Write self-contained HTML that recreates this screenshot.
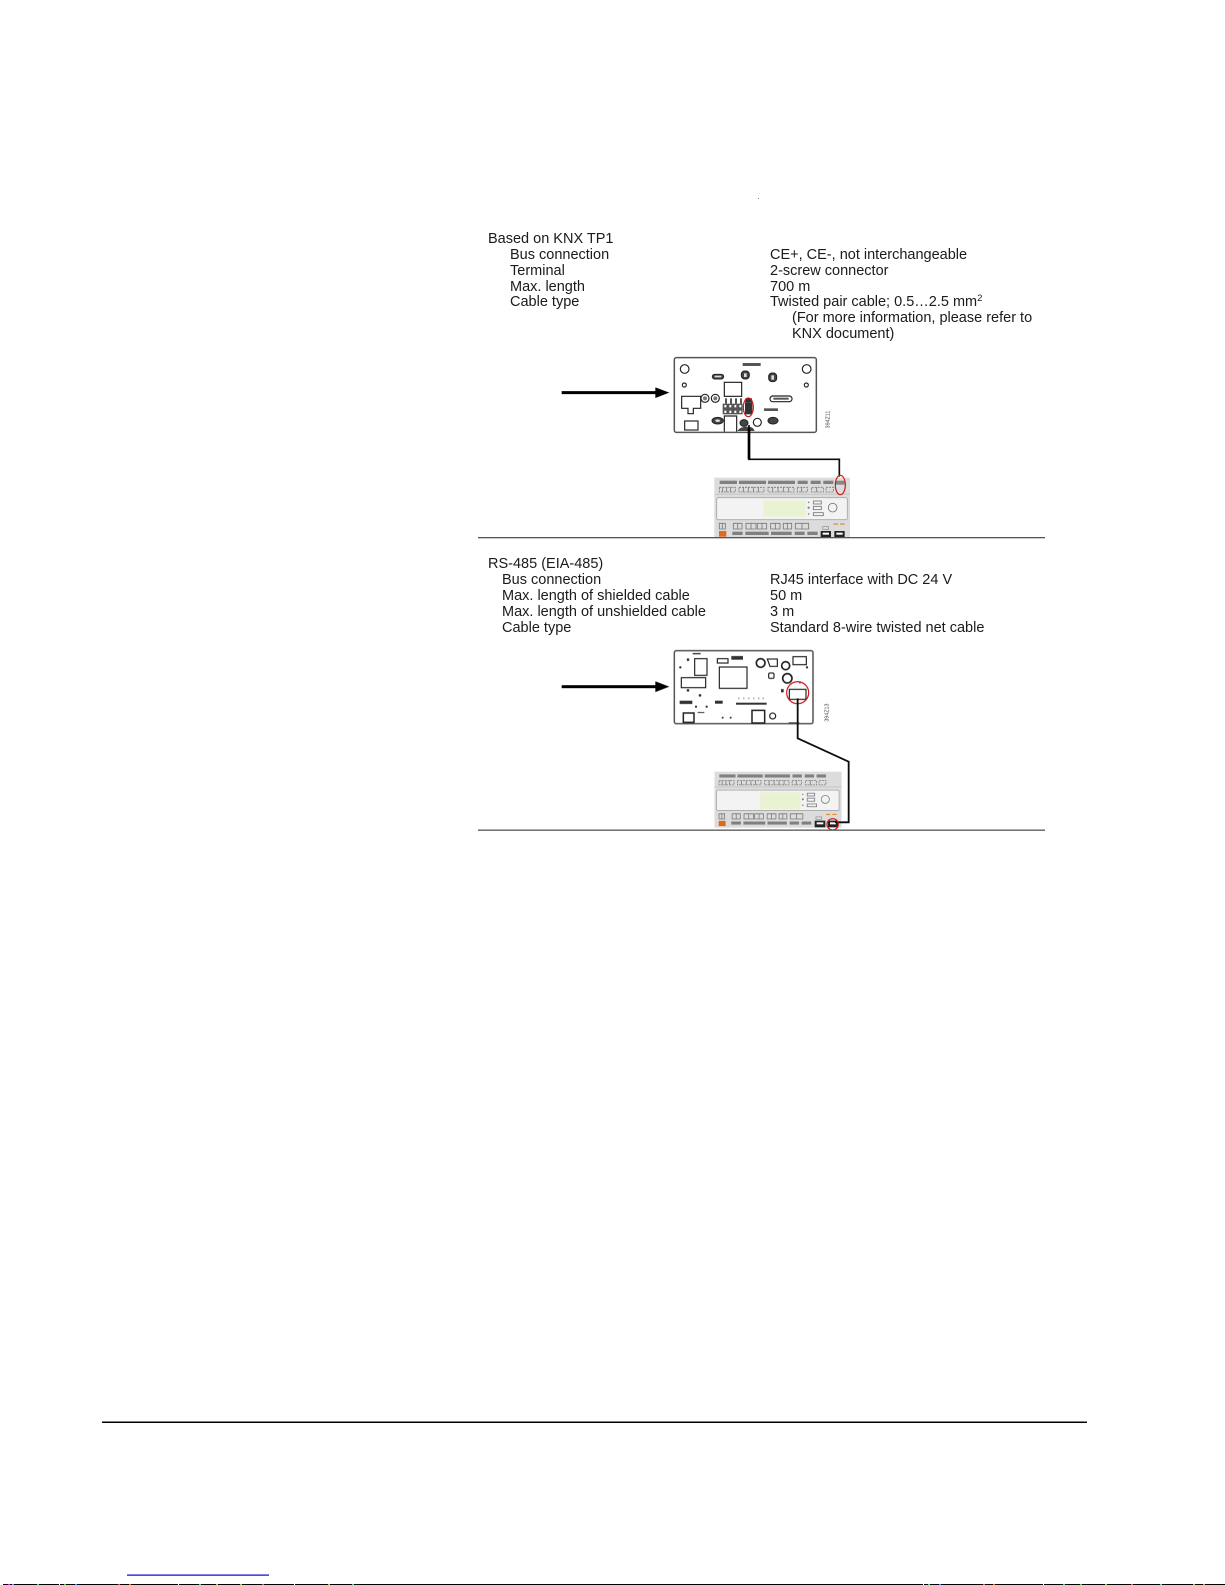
<!DOCTYPE html>
<html><head><meta charset="utf-8"><style>
html,body{margin:0;padding:0;background:#fff;width:1225px;height:1585px;overflow:hidden}
svg{display:block;position:absolute;left:0;top:0}
text{font-family:"Liberation Sans",sans-serif;font-size:14.5px;fill:#1a1a1a}
</style></head><body>
<svg width="1225" height="1585" viewBox="0 0 1225 1585" xmlns="http://www.w3.org/2000/svg">
<defs>
<filter id="b" x="-5%" y="-5%" width="110%" height="110%"><feGaussianBlur stdDeviation="0.55"/></filter>
<filter id="t" x="-5%" y="-20%" width="110%" height="140%"><feGaussianBlur stdDeviation="0.3"/></filter>
<g id="ctrlA">
<rect x="523" y="398" width="407" height="182" fill="#dcdcdc"/>
<rect x="523" y="446" width="407" height="3" fill="#c4c4c4"/>
<g fill="#808080"><rect x="539" y="407" width="52" height="10"/><rect x="597" y="407" width="81" height="10"/><rect x="684" y="407" width="81" height="10"/><rect x="773" y="407" width="30" height="10"/><rect x="812" y="407" width="30" height="10"/><rect x="850" y="407" width="30" height="10"/></g>
<g fill="none" stroke="#777" stroke-width="2.500"><path d="M538 427H586V441H538ZM597 427H672V441H597ZM684 427H762V441H684ZM772 427H802V441H772ZM815 427H850V441H815ZM858 427H880V441H858Z" stroke-dasharray="6 3"/><path d="M548 427V441M560 427V441M572 427V441M610 427V441M625 427V441M640 427V441M655 427V441M698 427V441M714 427V441M730 427V441M746 427V441M785 427V441M830 427V441"/></g>
<rect x="530" y="458" width="392" height="66" rx="5" fill="#f3f3f3" stroke="#a6a6a6" stroke-width="2.500"/>
<g fill="none" stroke="#777" stroke-width="2.500"><rect x="820" y="468" width="24" height="9"/><rect x="820" y="484" width="24" height="10"/><rect x="820" y="503" width="30" height="9"/><circle cx="878" cy="488" r="13"/></g>
<g fill="#888"><circle cx="806" cy="472" r="2.500"/><circle cx="806" cy="488" r="3.500"/><circle cx="806" cy="507" r="2.500"/></g>
<g fill="none" stroke="#777" stroke-width="2.500"><path d="M538 535H556V552H538ZM580 535H606V552H580ZM618 535H648V552H618ZM652 535H680V552H652ZM692 535H720V552H692ZM730 535H755V552H730ZM766 535H806V552H766Z"/><path d="M547 535V552M593 535V552M633 535V552M666 535V552M706 535V552M742 535V552M786 535V552"/></g>
<rect x="537" y="558" width="22" height="17" fill="#e0691e"/>
<g fill="#808080"><rect x="577" y="560" width="31" height="10"/><rect x="616" y="560" width="70" height="10"/><rect x="693" y="560" width="62" height="10"/><rect x="764" y="560" width="30" height="10"/><rect x="802" y="560" width="31" height="10"/></g>
<g fill="#e0913f"><rect x="880" y="535" width="14" height="4"/><rect x="900" y="535" width="14" height="4"/></g>
<rect x="848" y="545" width="18" height="8" fill="none" stroke="#888" stroke-width="2"/>
</g>
</defs>

<rect x="758" y="198" width="1" height="1" fill="#777"/>

<g filter="url(#t)">
<text x="488" y="243">Based on KNX TP1</text>
<text x="510" y="259">Bus connection</text>
<text x="510" y="275">Terminal</text>
<text x="510" y="291">Max. length</text>
<text x="510" y="306">Cable type</text>
<text x="770" y="259">CE+, CE-, not interchangeable</text>
<text x="770" y="275">2-screw connector</text>
<text x="770" y="291">700 m</text>
<text x="770" y="306">Twisted pair cable; 0.5…2.5 mm<tspan font-size="9.500" dy="-5">2</tspan></text>
<text x="792" y="322">(For more information, please refer to</text>
<text x="792" y="338">KNX document)</text>

<text x="488" y="568">RS-485 (EIA-485)</text>
<text x="502" y="584">Bus connection</text>
<text x="502" y="600">Max. length of shielded cable</text>
<text x="502" y="616">Max. length of unshielded cable</text>
<text x="502" y="632">Cable type</text>
<text x="770" y="584">RJ45 interface with DC 24 V</text>
<text x="770" y="600">50 m</text>
<text x="770" y="616">3 m</text>
<text x="770" y="632">Standard 8-wire twisted net cable</text>
</g>

<!-- KNX diagram -->
<g transform="translate(540,345) scale(.33333)" filter="url(#b)">
<path d="M65 143H350" stroke="#000" stroke-width="9" fill="none"/>
<path d="M346 127L388 143L346 159Z" fill="#000"/>
<rect x="403" y="38" width="426" height="224" rx="6" fill="#fff" stroke="#555" stroke-width="4.500"/>
<g fill="none" stroke="#222" stroke-width="3.500">
<circle cx="434" cy="72" r="13"/><circle cx="800" cy="72" r="13"/>
<circle cx="433" cy="120" r="6"/><circle cx="799" cy="120" r="6"/>
<rect x="553" y="112" width="52" height="42"/>
<path d="M425 154H482V190H460V206H444V190H425Z"/>
<circle cx="495" cy="160" r="12"/><circle cx="526" cy="160" r="12"/>
<rect x="690" y="153" width="66" height="17" rx="8"/>
<rect x="434" y="228" width="40" height="27"/>
<circle cx="652" cy="232" r="12"/>
<path d="M553 260V213H590V260"/>
</g>
<g fill="#444" stroke="#222" stroke-width="3">
<rect x="517" y="88" width="34" height="14" rx="7"/><rect x="604" y="78" width="24" height="24" rx="10"/><rect x="686" y="84" width="24" height="26" rx="10"/>
<ellipse cx="533" cy="227" rx="17" ry="10"/><ellipse cx="612" cy="234" rx="12" ry="10"/><ellipse cx="699" cy="227" rx="15" ry="10"/>
</g>
<g fill="#ddd"><rect x="524" y="92" width="20" height="5"/><rect x="612" y="85" width="8" height="11"/><rect x="694" y="91" width="8" height="13"/><ellipse cx="533" cy="227" rx="7" ry="4"/><circle cx="495" cy="160" r="6" fill="#777"/><circle cx="526" cy="160" r="6" fill="#777"/></g>
<rect x="608" y="54" width="54" height="9" fill="#555"/>
<rect x="672" y="190" width="42" height="8" fill="#555"/>
<rect x="700" y="158" width="46" height="6" fill="#555"/>
<rect x="548" y="176" width="60" height="32" fill="#555"/>
<g fill="#fff"><rect x="553" y="180" width="6" height="7"/><rect x="568" y="180" width="6" height="7"/><rect x="583" y="180" width="6" height="7"/><rect x="598" y="180" width="6" height="7"/><rect x="553" y="197" width="6" height="7"/><rect x="568" y="197" width="6" height="7"/><rect x="583" y="197" width="6" height="7"/><rect x="598" y="197" width="6" height="7"/></g>
<g fill="#555"><rect x="555" y="160" width="6" height="16"/><rect x="570" y="160" width="6" height="16"/><rect x="585" y="160" width="6" height="16"/><rect x="600" y="160" width="6" height="16"/></g>
<rect x="615" y="172" width="22" height="36" fill="#333"/>
<rect x="616" y="160" width="20" height="12" fill="#333"/>
<path d="M592 258Q600 244 626 245Q640 246 644 258Z" fill="#444"/>
<path d="M627 240V343H898V395" fill="none" stroke="#111" stroke-width="5"/>
<path d="M627 250V343" stroke="#000" stroke-width="8" fill="none"/>
<ellipse cx="625" cy="187" rx="15" ry="28" fill="none" stroke="#d01515" stroke-width="3.500"/>
<use href="#ctrlA"/>
<rect x="670" y="466" width="127" height="49" fill="#e9f3d4"/>
<rect x="888" y="407" width="26" height="12" fill="#888"/>
<ellipse cx="901" cy="420" rx="15" ry="29" fill="none" stroke="#d01515" stroke-width="3.500"/>
<rect x="842" y="558" width="31" height="20" fill="#222"/><rect x="848" y="563" width="19" height="6" fill="#fff"/>
<rect x="883" y="558" width="31" height="20" fill="#222"/><rect x="889" y="563" width="19" height="6" fill="#fff"/>
<text x="0" y="0" transform="translate(868,250) rotate(-90)" style="font-size:16px;fill:#444">394Z11</text>
</g>

<!-- RS-485 diagram -->
<g transform="translate(540,635) scale(.33333)" filter="url(#b)">
<path d="M65 155H350" stroke="#000" stroke-width="9" fill="none"/>
<path d="M346 139L388 155L346 171Z" fill="#000"/>
<rect x="403" y="47" width="416" height="219" rx="6" fill="#fff" stroke="#555" stroke-width="4.500"/>
<g fill="none" stroke="#222" stroke-width="3.500">
<rect x="464" y="71" width="37" height="50"/>
<rect x="532" y="71" width="32" height="13"/>
<rect x="538" y="96" width="83" height="64"/>
<rect x="424" y="128" width="73" height="30"/>
<circle cx="662" cy="84" r="13" stroke-width="5"/><path d="M682 72H712V94H690Z"/>
<circle cx="737" cy="92" r="12" stroke-width="5"/><circle cx="742" cy="130" r="14" stroke-width="5"/>
<rect x="686" y="114" width="16" height="16" rx="4"/>
<rect x="759" y="65" width="40" height="24"/>
<rect x="430" y="234" width="32" height="28" stroke-width="4.500"/>
<rect x="636" y="226" width="38" height="38" stroke-width="4.500"/><circle cx="698" cy="243" r="9"/>
<rect x="748" y="163" width="50" height="30"/>
</g>
<g fill="#333"><rect x="574" y="63" width="35" height="11"/><rect x="419" y="197" width="38" height="10"/><rect x="525" y="197" width="23" height="9"/><rect x="588" y="203" width="92" height="6"/><rect x="746" y="262" width="32" height="3"/><rect x="458" y="54" width="24" height="4"/><circle cx="444" cy="74" r="4"/><circle cx="444" cy="166" r="4"/><circle cx="421" cy="97" r="3.500"/><circle cx="480" cy="181" r="4"/><circle cx="468" cy="215" r="3.500"/><circle cx="500" cy="215" r="3.500"/><circle cx="548" cy="248" r="3"/><circle cx="572" cy="248" r="3"/><rect x="723" y="162" width="8" height="10"/><circle cx="780" cy="143" r="2.500"/><circle cx="801" cy="97" r="3.500"/><rect x="473" y="231" width="20" height="3"/></g>
<g fill="#999"><rect x="595" y="187" width="3" height="6"/><rect x="610" y="187" width="3" height="6"/><rect x="625" y="187" width="3" height="6"/><rect x="640" y="187" width="3" height="6"/><rect x="655" y="187" width="3" height="6"/><rect x="668" y="187" width="3" height="6"/></g>
<circle cx="773" cy="173" r="33" fill="none" stroke="#d01515" stroke-width="3.500"/>
<g transform="translate(523,410) scale(.938,.923) translate(-523,-398)">
<use href="#ctrlA"/>
</g>
<rect x="660" y="472" width="122" height="50" fill="#e9f3d4"/>
<rect x="824" y="557" width="32" height="20" fill="#222"/><rect x="830" y="562" width="20" height="6" fill="#fff"/>
<rect x="864" y="557" width="30" height="20" fill="#222"/><rect x="870" y="562" width="18" height="6" fill="#fff"/>
<path d="M773 190V310L926 380V562H885" fill="none" stroke="#111" stroke-width="5.500"/>
<circle cx="878" cy="568" r="17" fill="none" stroke="#d01515" stroke-width="3.500"/>
<text x="0" y="0" transform="translate(866,260) rotate(-90)" style="font-size:16px;fill:#444">394Z13</text>
</g>

<rect x="478" y="537" width="567" height="1.300" fill="#555"/>
<rect x="478" y="829.500" width="567" height="1.300" fill="#555"/>
<rect x="102" y="1421.500" width="985" height="1.500" fill="#000"/>
<rect x="127" y="1574.500" width="142" height="1.200" fill="#0000e0"/>

<rect x="3" y="1584" width="1222" height="1" fill="#000"/>
<g>
<rect x="8" y="1584" width="2" height="1" fill="#f0f"/><rect x="12" y="1584" width="2" height="1" fill="#88c"/><rect x="37" y="1584" width="2" height="1" fill="#4c8"/><rect x="59" y="1584" width="1" height="1" fill="#fff"/><rect x="64" y="1584" width="2" height="1" fill="#4c4"/><rect x="75" y="1584" width="2" height="1" fill="#48f"/><rect x="118" y="1584" width="2" height="1" fill="#d44"/><rect x="129" y="1584" width="2" height="1" fill="#f60"/><rect x="178" y="1584" width="1" height="1" fill="#fff"/><rect x="199" y="1584" width="2" height="1" fill="#4c8"/><rect x="216" y="1584" width="2" height="1" fill="#ca4"/><rect x="240" y="1584" width="2" height="1" fill="#8c4"/><rect x="262" y="1584" width="2" height="1" fill="#a66"/><rect x="294" y="1584" width="1" height="1" fill="#fff"/><rect x="328" y="1584" width="2" height="1" fill="#ca4"/><rect x="352" y="1584" width="2" height="1" fill="#4c8"/><rect x="923" y="1584" width="1" height="1" fill="#fff"/><rect x="928" y="1584" width="2" height="1" fill="#4c8"/><rect x="939" y="1584" width="2" height="1" fill="#48f"/><rect x="983" y="1584" width="2" height="1" fill="#d66"/><rect x="993" y="1584" width="2" height="1" fill="#f60"/><rect x="1043" y="1584" width="1" height="1" fill="#fff"/><rect x="1063" y="1584" width="2" height="1" fill="#4c8"/><rect x="1080" y="1584" width="2" height="1" fill="#4c4"/><rect x="1105" y="1584" width="2" height="1" fill="#8c4"/><rect x="1131" y="1584" width="2" height="1" fill="#c66"/><rect x="1160" y="1584" width="2" height="1" fill="#4cc"/><rect x="1193" y="1584" width="2" height="1" fill="#ca4"/><rect x="1203" y="1584" width="2" height="1" fill="#d84"/>
</g>
</svg>
</body></html>
